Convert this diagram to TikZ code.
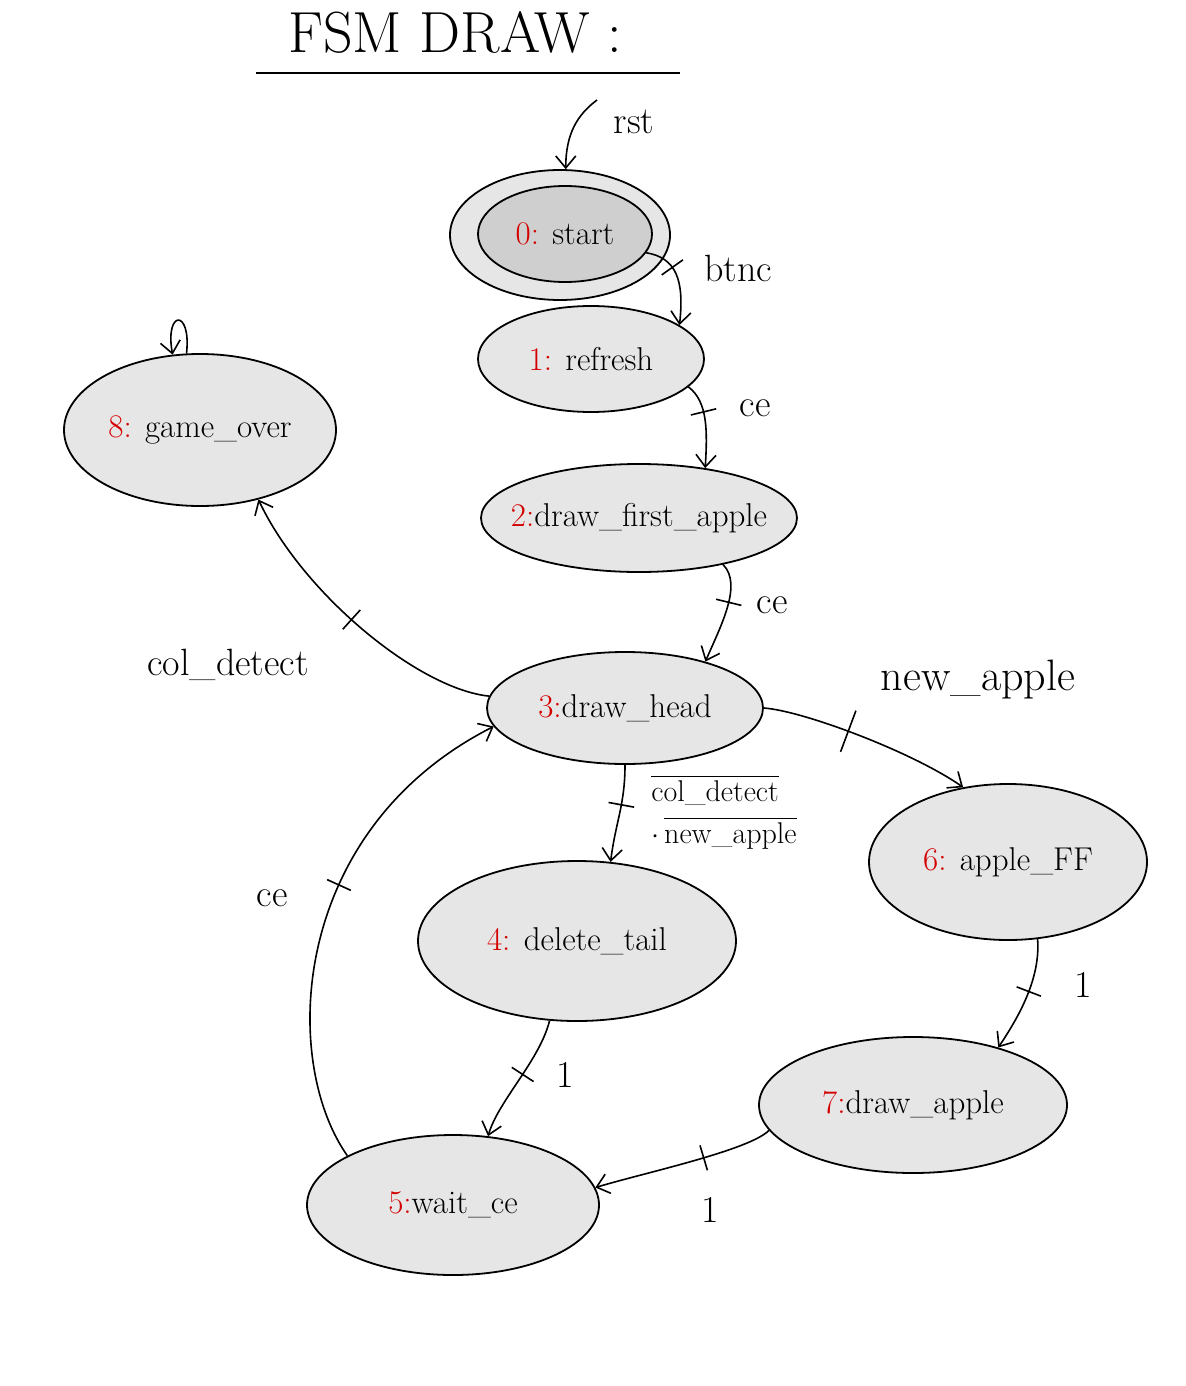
\documentclass[tikz,border=0pt]{standalone}
\usepackage{xcolor}
\usepackage{amsmath, amssymb}
\usepackage{tikz}
\usetikzlibrary{arrows.meta, shapes.geometric}
\definecolor{stategray}{HTML}{E6E6E6}
\definecolor{startgray}{HTML}{CFCFCF}
\definecolor{statered}{HTML}{D40000}

\newcommand{\statetext}[2]{\makebox[0pt]{\textcolor{statered}{#1}#2}}

\tikzset{
    state/.style={ellipse, draw, line width=0.9pt, fill=stategray, inner sep=0pt, font=\fontsize{16.5}{19}\selectfont},
    trans/.style={-{Straight Barb[length=6pt,width=10pt]}, line width=0.8pt},
    tick/.style={draw, line width=0.8pt, sloped, inner sep=0pt, minimum width=0pt, minimum height=13pt},
    lbl/.style={font=\fontsize{19}{22}\selectfont}
}

\begin{document}
\begin{tikzpicture}[x=0.5pt, y=-0.5pt]
    \useasboundingbox (0,0) rectangle (1186,1386);

    \node[font=\fontsize{29}{32}\selectfont] (title) at (455,32) {FSM DRAW :};
    \draw[line width=0.9pt] (256,73) -- (680,73);

    \node[state, minimum width=110pt, minimum height=65pt] (startout) at (560,235) {};
    \node[state, fill=startgray, minimum width=87pt, minimum height=48pt] (start) at (565,234) {\statetext{0:}{ start}};
    \node[state, minimum width=113pt, minimum height=53pt] (refresh) at (591,359) {\statetext{1:}{ refresh}};
    \node[state, minimum width=158pt, minimum height=54pt] (first) at (639,518) {\statetext{2:}{draw\_first\_apple}};
    \node[state, minimum width=138pt, minimum height=56pt] (head) at (625,708) {\statetext{3:}{draw\_head}};
    \node[state, minimum width=159pt, minimum height=80pt] (del) at (577,941) {\statetext{4:}{ delete\_tail}};
    \node[state, minimum width=146pt, minimum height=70pt] (wait) at (453,1205) {\statetext{5:}{wait\_ce}};
    \node[state, minimum width=139pt, minimum height=78pt] (apple) at (1008,862) {\statetext{6:}{ apple\_FF}};
    \node[state, minimum width=154pt, minimum height=68pt] (drawapple) at (913,1105) {\statetext{7:}{draw\_apple}};
    \node[state, minimum width=136pt, minimum height=76pt] (over) at (200,430) {\statetext{8:}{ game\_over}};

    \coordinate (rstin) at (597,100);
    \draw[trans] (rstin) .. controls +(-20,15) and +(0,-35) .. (startout.85);
    \node[lbl] (rst) at (634,122) {rst};

    \draw[trans] (start.-13) .. controls +(30,5) and +(5,-45) .. (refresh.21)
        node[tick, pos=0.4] (t1) {};
    \node[lbl] (btnc) at (738,268) {btnc};

    \draw[trans] (refresh.-16) .. controls +(20,15) and +(2,-35) .. (first.37)
        node[tick, pos=0.4] (t2) {};
    \node[lbl] (ce1) at (755,408) {ce};

    \draw[trans] (first.-29) .. controls +(20,20) and +(15,-35) .. (head.30)
        node[tick, pos=0.45] (t3) {};
    \node[lbl] (ce2) at (772,605) {ce};

    \draw[trans] (head.175) .. controls +(-70,-7) and +(45,95) .. (over.-50)
        node[tick, pos=0.55] (t4) {};
    \node[lbl] (coldet) at (228,665) {col\_detect};

    \draw[trans] (head.-90) .. controls +(0,40) and +(5,-40) .. (del.67)
        node[tick, pos=0.4] (t5) {};
    \node[font=\fontsize{15}{18}\selectfont, align=left] (nocol) at (724,812)
        {$\overline{\text{col\_detect}}$\\[3pt]$\cdot\,\overline{\text{new\_apple}}$};

    \draw[trans] (head.0) .. controls +(40,3) and +(-50,-35) .. (apple.121)
        node[tick, pos=0.45, minimum height=22pt] (t6) {};
    \node[lbl, font=\fontsize{22}{25}\selectfont] (newapple) at (978,680) {new\_apple};

    \draw[trans] (apple.-69) .. controls +(3,40) and +(20,-30) .. (drawapple.34)
        node[tick, pos=0.45] (t7) {};
    \node[lbl] (one1) at (1083,985) {1};

    \draw[trans] (drawapple.190) .. controls +(-20,20) and +(50,-15) .. (wait.7)
        node[tick, pos=0.45] (t8) {};
    \node[lbl] (one2) at (710,1210) {1};

    \draw[trans] (del.-109) .. controls +(-10,40) and +(10,-35) .. (wait.63)
        node[tick, pos=0.45] (t9) {};
    \node[lbl] (one3) at (565,1075) {1};

    \draw[trans] (wait.155) .. controls (280,1060) and (290,830) .. (head.188)
        node[tick, pos=0.62] (t10) {};
    \node[lbl] (ce3) at (272,898) {ce};

    \draw[trans] (over.100) .. controls +(5,-45) and +(-8,-45) .. (over.110);
\end{tikzpicture}
\end{document}
